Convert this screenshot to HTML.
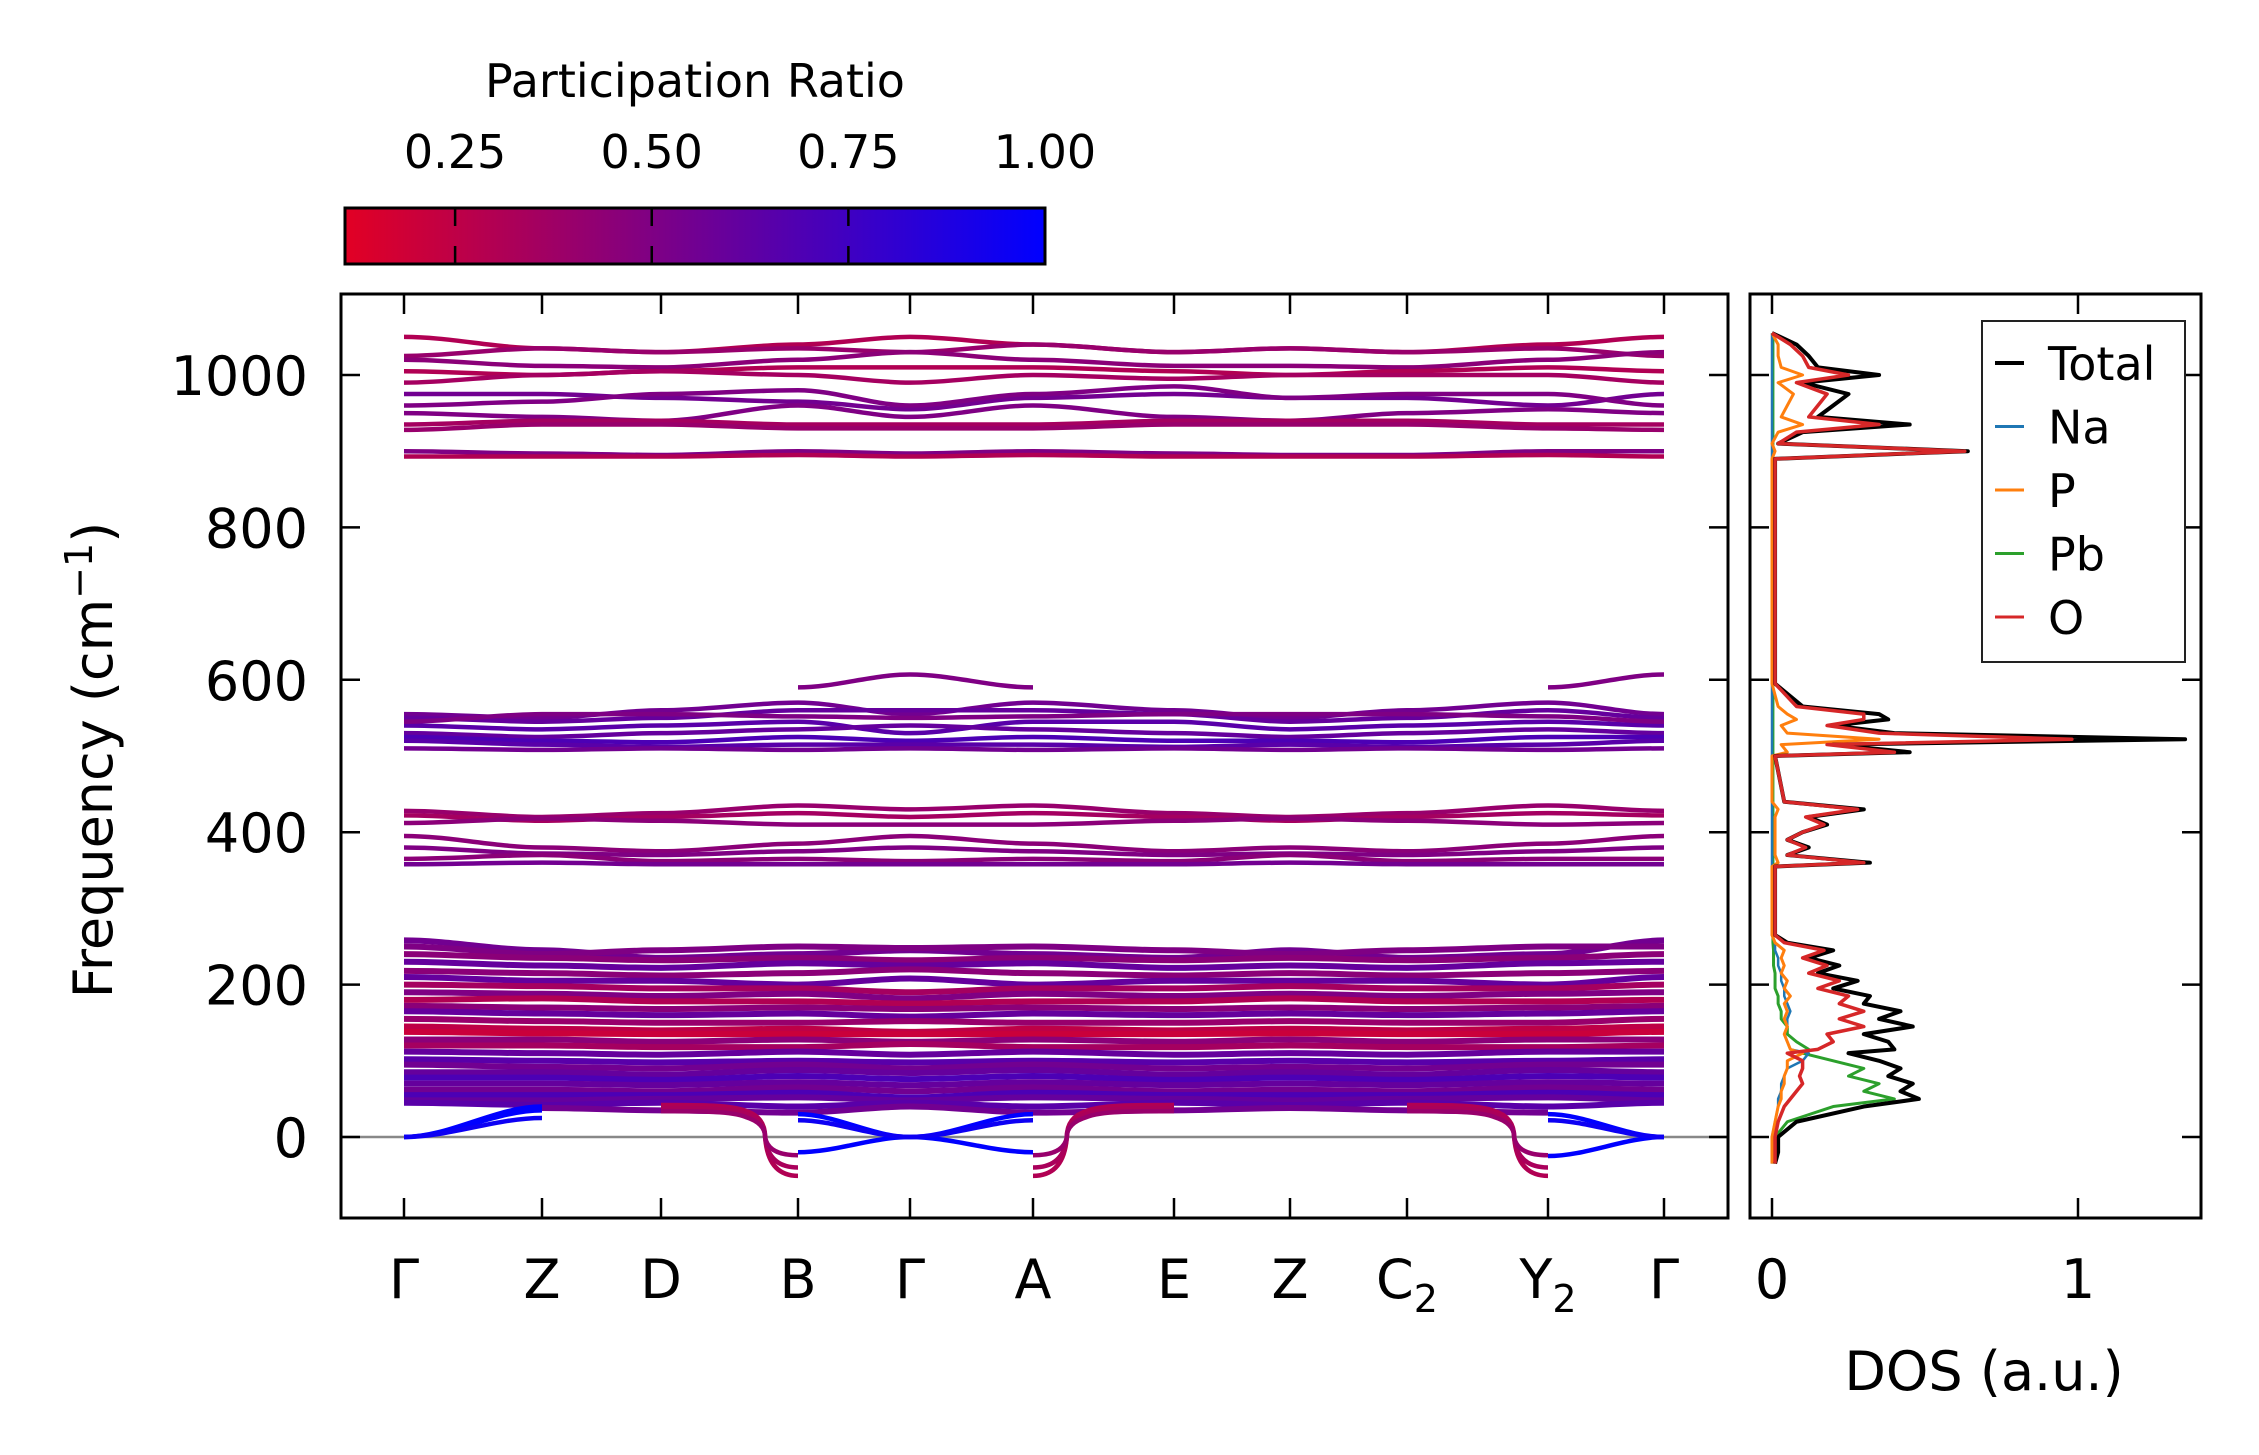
<!DOCTYPE html>
<html><head><meta charset="utf-8"><style>
html,body{margin:0;padding:0;background:#fff;}
svg{display:block;font-family:"DejaVu Sans","Liberation Sans",sans-serif;}
</style></head><body>
<svg id="fig" width="2259" height="1455" viewBox="0 0 2259 1455" xmlns="http://www.w3.org/2000/svg">
<defs><linearGradient id="cbg" x1="0" x2="1" y1="0" y2="0"><stop offset="0" stop-color="rgb(226,0,36)"/><stop offset="1" stop-color="rgb(0,0,255)"/></linearGradient>
<clipPath id="mainclip"><rect x="341" y="294" width="1387" height="924"/></clipPath>
<clipPath id="dosclip"><rect x="1750" y="294" width="451" height="924"/></clipPath></defs>
<g id="bands" clip-path="url(#mainclip)"></g>
<g id="dos" clip-path="url(#dosclip)"></g>
<g id="axes"></g>
</svg>
<script>
const kLabels=["Γ","Z","D","B","Γ","A","E","Z","C","Y","Γ"];
const kSubs=["","","","","","","","","2","2",""];
const kPix=[404,542,661,798,910,1033,1174,1290,1407,1548,1664];
const yTicks=[0,200,400,600,800,1000];
const bandsHigh=[
[1050,1035,1030,1040,1050,1040,1030,1035,1030,1040,1050],
[1025,1035,1030,1035,1030,1040,1030,1035,1030,1035,1025],
[1020,1012,1010,1020,1030,1020,1012,1012,1010,1020,1030],
[1005,1000,1005,1010,1010,1010,1005,1000,1005,1010,1005],
[990,1000,1005,1000,990,1000,995,1000,1000,1000,990],
[975,975,970,965,955,970,975,970,970,960,975],
[960,965,975,980,960,975,985,970,975,975,960],
[950,945,940,960,945,960,945,940,950,955,950],
[935,940,940,935,935,935,940,940,940,935,935],
[928,935,935,930,930,930,935,935,935,930,928],
[900,897,895,900,897,900,897,895,895,900,900],
[893,893,893,895,893,895,893,893,893,895,893]];
const prHigh=[0.3,0.4,0.45,0.3,0.35,0.55,0.5,0.5,0.35,0.4,0.5,0.3];
const bandsMid=[
[null,null,null,590,607,590,null,null,null,590,607],
[555,550,560,570,555,570,560,550,560,570,555],
[550,545,550,560,560,560,555,545,550,560,550],
[540,535,540,545,530,545,545,535,540,545,540],
[530,525,530,535,540,535,530,525,530,535,530],
[525,520,518,525,520,525,520,520,518,525,525],
[520,515,512,515,515,515,512,515,512,515,520],
[510,508,510,508,510,508,510,508,510,508,510],
[545,555,555,552,550,552,555,555,555,552,545],
[428,420,425,435,430,435,425,420,425,435,428],
[422,415,420,425,420,425,420,415,420,425,422],
[412,418,415,410,410,410,415,418,415,410,412],
[395,380,375,385,395,385,375,380,375,385,395],
[380,372,370,375,380,375,370,372,370,375,380],
[365,370,362,365,362,365,362,370,362,365,365],
[358,360,358,358,358,358,358,360,358,358,358]];
const prMid=[0.5,0.55,0.6,0.65,0.6,0.7,0.65,0.55,0.5,0.4,0.35,0.45,0.45,0.5,0.45,0.55];
const bandsLow=[
[258,245,235,240,245,240,235,245,235,240,258],
[250,240,245,250,248,250,245,240,245,250,250],
[240,235,232,235,232,235,232,235,232,235,240],
[230,225,222,228,225,228,222,225,222,228,230],
[218,215,212,215,220,215,212,215,212,215,218],
[210,205,205,200,208,200,205,205,205,200,210],
[200,198,195,195,190,195,195,198,195,195,200],
[190,188,185,188,182,188,185,188,185,188,190],
[180,182,178,178,175,178,178,182,178,178,180],
[172,170,168,170,168,170,168,170,168,170,172],
[165,162,160,162,158,162,160,162,160,162,165],
[155,152,150,150,152,150,150,152,150,150,155],
[145,142,140,142,138,142,140,142,140,142,145],
[138,136,135,135,135,135,135,136,135,135,138],
[128,128,125,128,125,128,125,128,125,128,128],
[120,120,118,118,122,118,118,120,118,118,120],
[112,110,108,112,108,112,108,110,108,112,112],
[102,100,98,100,98,100,98,100,98,100,102],
[95,92,90,95,90,95,90,92,90,95,95],
[85,85,82,88,84,88,82,85,82,88,85],
[78,78,75,80,76,80,75,78,75,80,78],
[70,70,68,72,68,72,68,70,68,72,70],
[62,62,60,65,60,65,60,62,60,65,62],
[55,55,55,58,52,58,55,55,55,58,55],
[48,48,50,52,48,52,50,48,50,52,48],
[45,42,45,40,45,40,45,42,45,40,45],
[null,38,35,32,40,32,35,38,35,32,null]];
const prLow=[0.55,0.5,0.45,0.6,0.45,0.6,0.35,0.5,0.3,0.45,0.6,0.4,0.25,0.2,0.45,0.35,0.6,0.65,0.55,0.6,0.7,0.6,0.55,0.7,0.6,0.65,0.55];
const bandsSoft=[
[null,null,42,-51,null,-51,42,null,42,-51,null],
[null,null,38,-40,null,-40,38,null,38,-40,null],
[null,null,34,-24,null,-24,34,null,34,-24,null]];
const prSoft=[0.3,0.33,0.4];
const bandsAcoustic=[
[0,40,null,-20,0,-20,null,null,null,-25,0],
[0,35,null,30,0,30,null,null,null,30,0],
[0,25,null,22,0,22,null,null,null,22,0]];
const prAcoustic=[1.0,1.0,0.95];

const dosFreq=[-35,-20,0,20,40,50,60,70,80,90,100,110,115,125,135,145,155,165,175,185,195,205,215,225,235,245,255,265,355,360,370,380,390,400,410,420,430,440,500,505,515,522,530,540,548,555,565,595,890,900,910,925,935,945,960,975,990,1000,1010,1025,1040,1055];
const dosTotal=[0.01,0.02,0.02,0.08,0.3,0.48,0.42,0.46,0.38,0.42,0.35,0.25,0.4,0.38,0.3,0.46,0.35,0.42,0.3,0.32,0.2,0.28,0.15,0.22,0.12,0.2,0.05,0.01,0.01,0.32,0.05,0.12,0.05,0.1,0.18,0.12,0.3,0.04,0.01,0.45,0.2,1.35,0.4,0.2,0.38,0.35,0.1,0.01,0.01,0.64,0.02,0.1,0.45,0.15,0.2,0.25,0.1,0.35,0.15,0.12,0.08,0.0];
const dosNa=[0,0,0,0.01,0.02,0.02,0.03,0.03,0.04,0.05,0.1,0.12,0.06,0.05,0.04,0.05,0.05,0.06,0.05,0.04,0.04,0.03,0.03,0.02,0.02,0.01,0.01,0,0,0,0,0,0,0,0,0,0,0,0,0,0,0,0,0,0,0,0,0,0,0,0,0,0,0,0,0,0,0,0,0,0,0];
const dosP=[0,0,0,0.01,0.02,0.03,0.03,0.04,0.04,0.05,0.05,0.1,0.06,0.05,0.04,0.05,0.04,0.05,0.04,0.06,0.04,0.05,0.03,0.04,0.03,0.04,0.01,0,0,0.02,0.01,0.01,0.01,0.01,0.01,0.01,0.02,0,0,0.05,0.03,0.35,0.05,0.03,0.08,0.05,0.02,0,0,0.01,0,0.02,0.1,0.03,0.05,0.07,0.02,0.1,0.03,0.02,0.02,0];
const dosPb=[0.005,0.01,0.01,0.05,0.2,0.4,0.3,0.35,0.25,0.3,0.2,0.1,0.12,0.08,0.05,0.05,0.03,0.03,0.02,0.02,0.01,0.01,0.01,0.005,0.005,0.005,0.003,0.003,0.003,0.003,0.003,0.003,0.003,0.003,0.003,0.003,0.003,0.003,0.003,0.003,0.003,0.003,0.003,0.003,0.003,0.003,0.003,0.003,0.003,0.003,0.003,0.003,0.003,0.003,0.003,0.003,0.003,0.003,0.003,0.003,0.003,0.003];
const dosO=[0.01,0.01,0.01,0.02,0.04,0.06,0.08,0.1,0.09,0.1,0.1,0.05,0.15,0.2,0.18,0.3,0.22,0.3,0.22,0.25,0.15,0.22,0.12,0.18,0.1,0.17,0.04,0.01,0.01,0.3,0.05,0.11,0.05,0.1,0.17,0.11,0.28,0.04,0.01,0.4,0.18,0.98,0.35,0.18,0.3,0.3,0.08,0.01,0.01,0.63,0.02,0.08,0.35,0.12,0.15,0.18,0.08,0.25,0.12,0.1,0.06,0.0];
const legendNames=["Total","Na","P","Pb","O"];
const cbTicks=[0.25,0.5,0.75,1.0];

const NS="http://www.w3.org/2000/svg";
function mk(tag,attrs,parent){const e=document.createElementNS(NS,tag);for(const k in attrs)e.setAttribute(k,attrs[k]);parent.appendChild(e);return e;}
const yS=f=>1137-f*0.762;
const dx=v=>1772+v*306;
const cbX=v=>345+(v-0.11)/(1-0.11)*700;
function prColor(p){const t=Math.max(0,Math.min(1,(p-0.107)/(0.893)));return `rgb(${Math.round(226*(1-t))},0,${Math.round(36+219*t)})`;}

const gB=document.getElementById('bands');
function drawBand(vals,pr,w,name,soft){
  const col=prColor(pr);
  for(let i=0;i<vals.length-1;i++){
    if(vals[i]===null||vals[i+1]===null)continue;
    const x0=kPix[i],x1=kPix[i+1],y0=yS(vals[i]),y1=yS(vals[i+1]);
    let d;
    if(soft){
      const dropFirst=vals[i]>vals[i+1];
      const L=x1-x0;
      if(dropFirst){const xa=x0+0.62*L,xb=x0+0.76*L;
        d=`M${x0},${y0} C${x0+0.3*L},${y0} ${xa-0.1*L},${y0} ${xa},${y0+6} Q${xb},${y0+12} ${xb},${yS(0)} Q${xb+0.02*L},${y1} ${x1},${y1}`;}
      else {const xa=x0+0.38*L,xb=x0+0.24*L;
        d=`M${x0},${y0} Q${xb-0.02*L},${y0} ${xb},${yS(0)} Q${xb},${y1+12} ${xa},${y1+6} C${xa+0.1*L},${y1} ${x1-0.3*L},${y1} ${x1},${y1}`;}
    }
    else d=`M${x0},${y0} C${x0+(x1-x0)/3},${y0} ${x1-(x1-x0)/3},${y1} ${x1},${y1}`;
    const p=mk('path',{d:d,fill:'none',stroke:col,'stroke-width':w},gB);
    
    
  }
}
mk('line',{x1:341,x2:1728,y1:yS(0),y2:yS(0),stroke:'#888','stroke-width':2.5},gB);
bandsLow.forEach((b,i)=>drawBand(b,prLow[i],6,'low-band',false));
bandsMid.forEach((b,i)=>drawBand(b,prMid[i],4.5,'mid-band',false));
bandsHigh.forEach((b,i)=>drawBand(b,prHigh[i],4.5,'high-band',false));
bandsSoft.forEach((b,i)=>drawBand(b,prSoft[i],4.5,'soft-mode-band',true));
bandsAcoustic.forEach((b,i)=>drawBand(b,prAcoustic[i],4.5,'acoustic-band',false));

const gD=document.getElementById('dos');
const dosSeries=[[dosPb,'#2ca02c',3,'dos-pb'],[dosNa,'#1f77b4',2.5,'dos-na'],[dosP,'#ff7f0e',3,'dos-p'],[dosTotal,'#000',4,'dos-total'],[dosO,'#d62728',3.5,'dos-o']];
dosSeries.forEach(s=>{
  const pts=dosFreq.map((f,i)=>`${dx(s[0][i])},${yS(f)}`).join(' ');
  const pl=mk('polyline',{points:pts,fill:'none',stroke:s[1],'stroke-width':s[2],'stroke-linejoin':'round'},gD);
  
  
});

const gA=document.getElementById('axes');
const f1=mk('rect',{x:341,y:294,width:1387,height:924,fill:'none',stroke:'#000','stroke-width':3},gA);


const f2=mk('rect',{x:1750,y:294,width:451,height:924,fill:'none',stroke:'#000','stroke-width':3},gA);


yTicks.forEach(v=>{
  const y=yS(v);
  [[341,360],[1728,1709],[1750,1769],[2201,2182]].forEach(a=>mk('line',{x1:a[0],x2:a[1],y1:y,y2:y,stroke:'#000','stroke-width':2.5},gA));
  const t=mk('text',{x:308,y:y+20,'font-size':54,'text-anchor':'end',fill:'#000'},gA);t.textContent=v;
  
  
});
kPix.forEach((x,i)=>{
  mk('line',{x1:x,x2:x,y1:294,y2:314,stroke:'#000','stroke-width':2.5},gA);
  mk('line',{x1:x,x2:x,y1:1218,y2:1198,stroke:'#000','stroke-width':2.5},gA);
  const t=mk('text',{x:x,y:1298,'font-size':54,'text-anchor':'middle',fill:'#000'},gA);
  t.textContent=kLabels[i];
  if(kSubs[i]){const s=mk('tspan',{'font-size':38,dy:14},t);s.textContent=kSubs[i];}
  
  
});
[0,1].forEach(v=>{
  const x=dx(v);
  mk('line',{x1:x,x2:x,y1:294,y2:314,stroke:'#000','stroke-width':2.5},gA);
  mk('line',{x1:x,x2:x,y1:1218,y2:1198,stroke:'#000','stroke-width':2.5},gA);
  const t=mk('text',{x:x,y:1298,'font-size':54,'text-anchor':'middle',fill:'#000'},gA);t.textContent=v;
  
  
});
const yl=mk('text',{x:0,y:0,'font-size':54,'text-anchor':'middle',transform:'translate(112,760) rotate(-90)',fill:'#000'},gA);
yl.innerHTML='Frequency (cm<tspan font-size="38" dy="-20">−1</tspan><tspan dy="20">)</tspan>';


const xl=mk('text',{x:1984,y:1390,'font-size':54,'text-anchor':'middle',fill:'#000'},gA);xl.textContent='DOS (a.u.)';


const lg=mk('g',{},gA);


mk('rect',{x:1982,y:321,width:203,height:341,fill:'#fff',stroke:'#222','stroke-width':2},lg);
const lgCols=['#000','#1f77b4','#ff7f0e','#2ca02c','#d62728'];
legendNames.forEach((n,i)=>{
  const y=363+i*63.5;
  mk('line',{x1:1995,x2:2024,y1:y,y2:y,stroke:lgCols[i],'stroke-width':i===0?4:3},lg);
  const t=mk('text',{x:2048,y:y+17,'font-size':46,fill:'#000'},lg);t.textContent=n;
  
  
});
const cb=mk('g',{},gA);


mk('rect',{x:345,y:208,width:700,height:56,fill:'url(#cbg)',stroke:'#000','stroke-width':3},cb);
cbTicks.forEach(v=>{
  const x=cbX(v);
  if(v<1){mk('line',{x1:x,x2:x,y1:208,y2:226,stroke:'#000','stroke-width':2.5},cb);
  mk('line',{x1:x,x2:x,y1:264,y2:246,stroke:'#000','stroke-width':2.5},cb);}
  const t=mk('text',{x:x,y:168,'font-size':46,'text-anchor':'middle',fill:'#000'},cb);t.textContent=v.toFixed(2);
  
  
});
const ct=mk('text',{x:695,y:97,'font-size':46,'text-anchor':'middle',fill:'#000'},cb);ct.textContent='Participation Ratio';


</script>
</body></html>
